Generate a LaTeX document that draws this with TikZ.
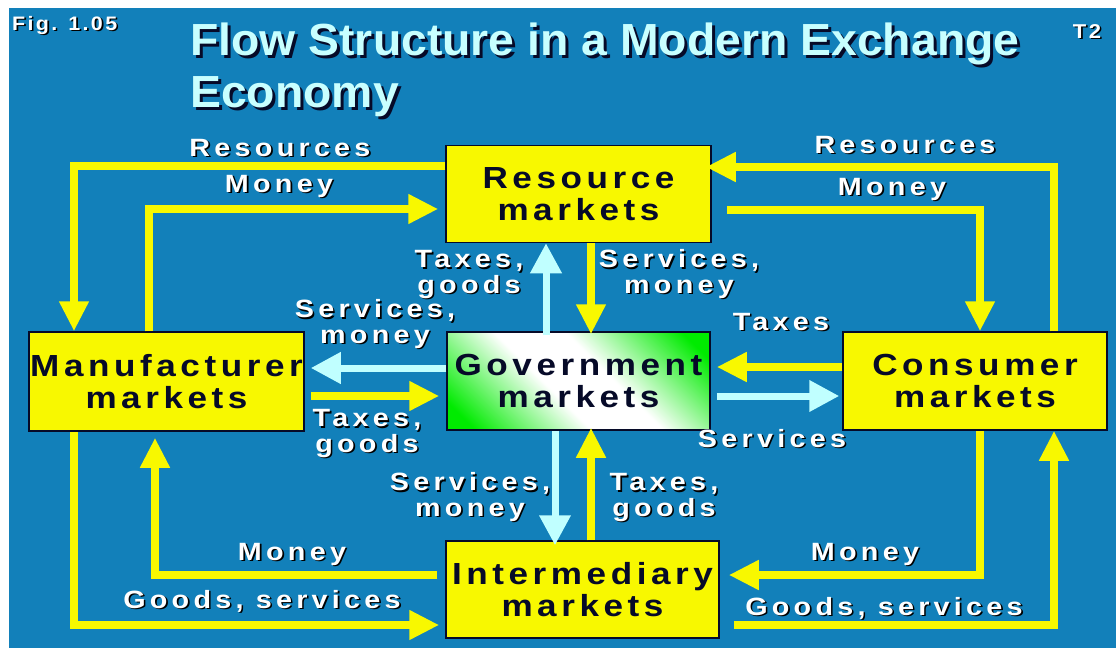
\documentclass[tikz,border=0pt]{standalone}
\usepackage{fontspec}
\setmainfont{Liberation Sans}
\newfontfamily\lblfont{Liberation Sans}[FakeStretch=1.15,LetterSpace=17]
\newfontfamily\figfont{Liberation Sans}[FakeStretch=1.1,LetterSpace=12]
\newfontfamily\boxfont{Liberation Sans}[FakeStretch=1.15,LetterSpace=15]
\newfontfamily\titlefont{Liberation Sans}[FakeStretch=1.03]
\usetikzlibrary{arrows.meta,calc}
\definecolor{bg}{RGB}{18,128,186}
\definecolor{yel}{RGB}{248,248,0}
\definecolor{cya}{RGB}{192,255,255}
\definecolor{titlec}{RGB}{200,255,255}
\definecolor{navy}{RGB}{6,10,40}
\definecolor{grn}{RGB}{0,235,0}
\pgfdeclareverticalshading{govshade}{100bp}{color(0bp)=(grn); color(20bp)=(grn); color(43bp)=(white); color(57bp)=(white); color(80bp)=(grn); color(100bp)=(grn)}
\newcommand{\shd}[1]{\makebox[0pt][l]{\kern1.6pt\raisebox{-1.6pt}{\color{black}#1}}#1}
\newcommand{\shdT}[1]{\makebox[0pt][l]{\kern3pt\raisebox{-3pt}{\color{navy}#1}}#1}
\tikzset{
  mbox/.style={draw=navy, line width=1.5pt, fill=yel, inner sep=0pt, align=center,
    text=navy, font=\boxfont\bfseries\fontsize{30.5}{32}\selectfont},
  lbl/.style={text=white, inner sep=0pt, anchor=base, align=center,
    font=\lblfont\bfseries\fontsize{25}{25.5}\selectfont},
  ya/.style={draw=yel, line width=8pt, line join=miter,
    -{Triangle[length=30pt,width=28pt]}},
  ca/.style={draw=cya, line width=7pt, line join=miter,
    -{Triangle[length=30pt,width=30pt]}},
  ttl/.style={text=titlec, inner sep=0pt, anchor=base west, align=left,
    font=\titlefont\bfseries\fontsize{45}{52}\selectfont}
}
\begin{document}
\begin{tikzpicture}[x=1pt,y=-1pt]
\useasboundingbox (0,0) rectangle (1116,648);
\fill[white] (0,0) rectangle (1116,648);
\fill[bg] (9,8) rectangle (1116,648);

% boxes
\node[mbox, minimum width=265pt, minimum height=97pt] (res) at (578.5,194) {Resource\\markets};
\node[mbox, minimum width=275pt, minimum height=99pt] (man) at (166.5,381.5) {Manufacturer\\markets};
\node[mbox, minimum width=264pt, minimum height=98pt] (con) at (975,381) {Consumer\\markets};
\node[mbox, minimum width=273pt, minimum height=97pt] (int) at (582.5,589.5) {Intermediary\\markets};
\node[mbox, minimum width=263pt, minimum height=98pt, fill=none,
  shading=govshade, shading angle=-45] (gov) at (578.5,381) {Government\\markets};

% title and corner texts
\node[ttl] (ttl) at (190,107) {\shdT{Flow Structure in a Modern Exchange}\\\shdT{Economy}};
\node[lbl, anchor=base west, font=\figfont\bfseries\fontsize{19.5}{20}\selectfont] (fig) at (12,30) {\shd{Fig. 1.05}};
\node[lbl, font=\figfont\bfseries\fontsize{20}{21}\selectfont] (tt) at (1087,38) {\shd{T2}};

% connectors
\draw[ya] (res.west |- 0,166) -| (man.north -| 74,0);
\draw[ya, shorten >=7pt] (man.north -| 149,0) |- (res.west |- 0,209);
\draw[ya, shorten >=-6pt] (con.north -| 1054,0) |- (res.east |- 0,167);
\draw[ya] ($(res.east |- 0,210)+(15,0)$) -| (con.north -| 980,0);
\draw[ca] ($(gov.north -| 546,0)+(0,4)$) -- (res.south -| 546,0);
\draw[ya, shorten >=-3pt] (res.south -| 591,0) -- (gov.north -| 591,0);
\draw[ca, shorten >=6pt] (gov.west |- 0,368) -- (man.east |- 0,368);
\draw[ya, shorten >=7pt] ($(man.east |- 0,396)+(6,0)$) -- (gov.west |- 0,396);
\draw[ya, shorten >=6pt] (con.west |- 0,367) -- (gov.east |- 0,367);
\draw[ca, shorten >=3pt] ($(gov.east |- 0,396)+(6,0)$) -- (con.west |- 0,396);
\draw[ca, shorten >=-5pt] (gov.south -| 555,0) -- (int.north -| 555,0);
\draw[ya, shorten >=-3pt] (int.north -| 591,0) -- (gov.south -| 591,0);
\draw[ya, shorten >=6pt] ($(int.west |- 0,575)+(-8,0)$) -| (man.south -| 155,0);
\draw[ya, shorten >=6pt] (man.south -| 74,0) |- (int.west |- 0,625);
\draw[ya, shorten >=9pt] (con.south -| 980,0) |- (int.east |- 0,575);
\draw[ya] ($(int.east |- 0,625)+(14,0)$) -| (con.south -| 1054,0);

% labels
\node[lbl] (l1) at (280,156) {\shd{Resources}};
\node[lbl] (l2) at (279,192) {\shd{Money}};
\node[lbl] (l3) at (905,153) {\shd{Resources}};
\node[lbl] (l4) at (892,195) {\shd{Money}};
\node[lbl] (l5) at (469,293) {\shd{Taxes,}\\\shd{goods}};
\node[lbl] (l6) at (679,293) {\shd{Services,}\\\shd{money}};
\node[lbl] (l7) at (375,343) {\shd{Services,}\\\shd{money}};
\node[lbl] (l8) at (781,330) {\shd{Taxes}};
\node[lbl] (l9) at (367,452) {\shd{Taxes,}\\\shd{goods}};
\node[lbl] (l10) at (772,447) {\shd{Services}};
\node[lbl] (l11) at (470,516) {\shd{Services,}\\\shd{money}};
\node[lbl] (l12) at (664,516) {\shd{Taxes,}\\\shd{goods}};
\node[lbl] (l13) at (292,560) {\shd{Money}};
\node[lbl] (l14) at (262,608) {\shd{Goods, services}};
\node[lbl] (l15) at (865,560) {\shd{Money}};
\node[lbl] (l16) at (884,615) {\shd{Goods, services}};
\end{tikzpicture}
\end{document}
